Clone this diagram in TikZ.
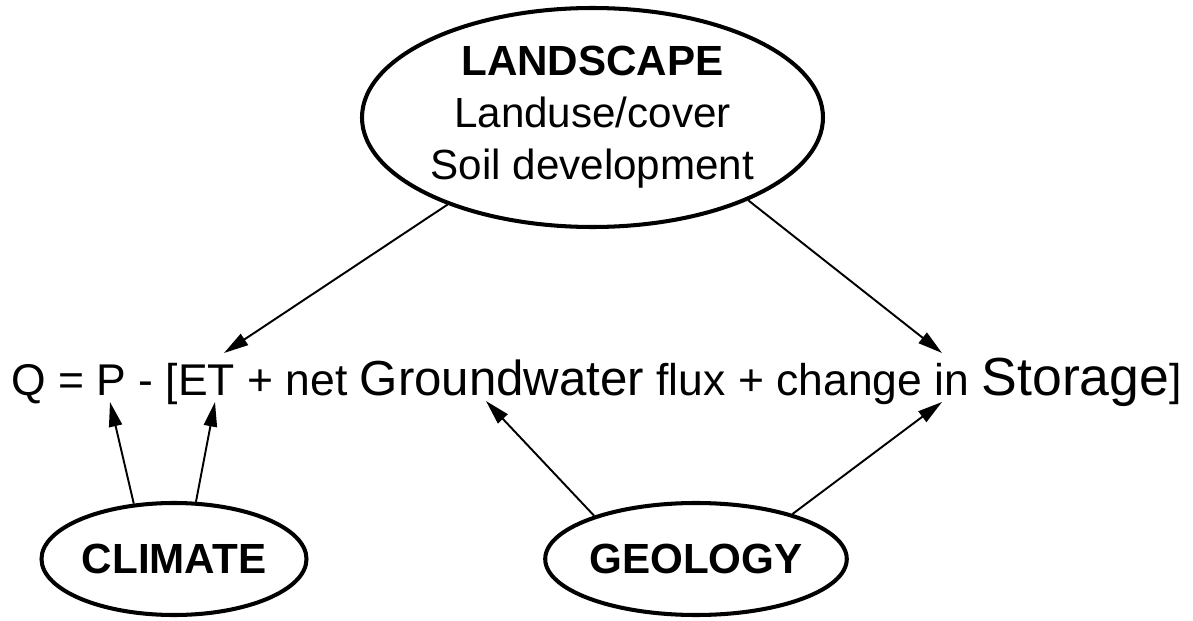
\documentclass[tikz,border=0pt]{standalone}
\usepackage{fontspec}
\setmainfont{Liberation Sans}
\usetikzlibrary{arrows.meta}
\usetikzlibrary{shapes.geometric}

\begin{document}
\begin{tikzpicture}[
        factor/.style={ellipse, draw, line width=2.3pt, inner sep=0pt, align=center,
          font=\fontsize{24}{29.6}\selectfont},
        link/.style={line width=1.1pt, -{Triangle[length=14pt, width=7.5pt]}}
    ]
        \useasboundingbox (0,0) rectangle (23.86,12.4);

        \node[factor, minimum width=9.22cm, minimum height=4.38cm] (land) at (11.85,10.05)
          {\textbf{LANDSCAPE}\\Landuse/cover\\Soil development};
        \node[factor, minimum width=5.3cm, minimum height=2.24cm] (climate) at (3.48,1.22)
          {\textbf{CLIMATE}};
        \node[factor, minimum width=5.36cm, minimum height=2.24cm] (geology) at (13.92,1.22)
          {\textbf{GEOLOGY}};

        \node[anchor=base west, inner sep=0pt] (balance) at (0.22,4.5)
          {\fontsize{25.3}{30}\selectfont Q = P - [ET + net
           {\fontsize{28}{30}\selectfont Groundwater} flux + change in
           {\fontsize{30.5}{30}\selectfont Storage}]};

        \coordinate (P) at (2.2,4.36);
        \coordinate (ET) at (4.3,4.36);
        \coordinate (GW) at (9.72,4.38);
        \coordinate (S) at (18.84,4.36);
        \coordinate (ETtop) at (4.48,5.34);
        \coordinate (Stop) at (18.84,5.34);

        \draw[link] (land.211) -- (ETtop);
        \draw[link] (land.332) -- (Stop);
        \draw[link] (climate.126) -- (P);
        \draw[link] (climate.69) -- (ET);
        \draw[link] (geology.157) -- (GW);
        \draw[link] (geology.25) -- (S);
    \end{tikzpicture}
\end{document}
